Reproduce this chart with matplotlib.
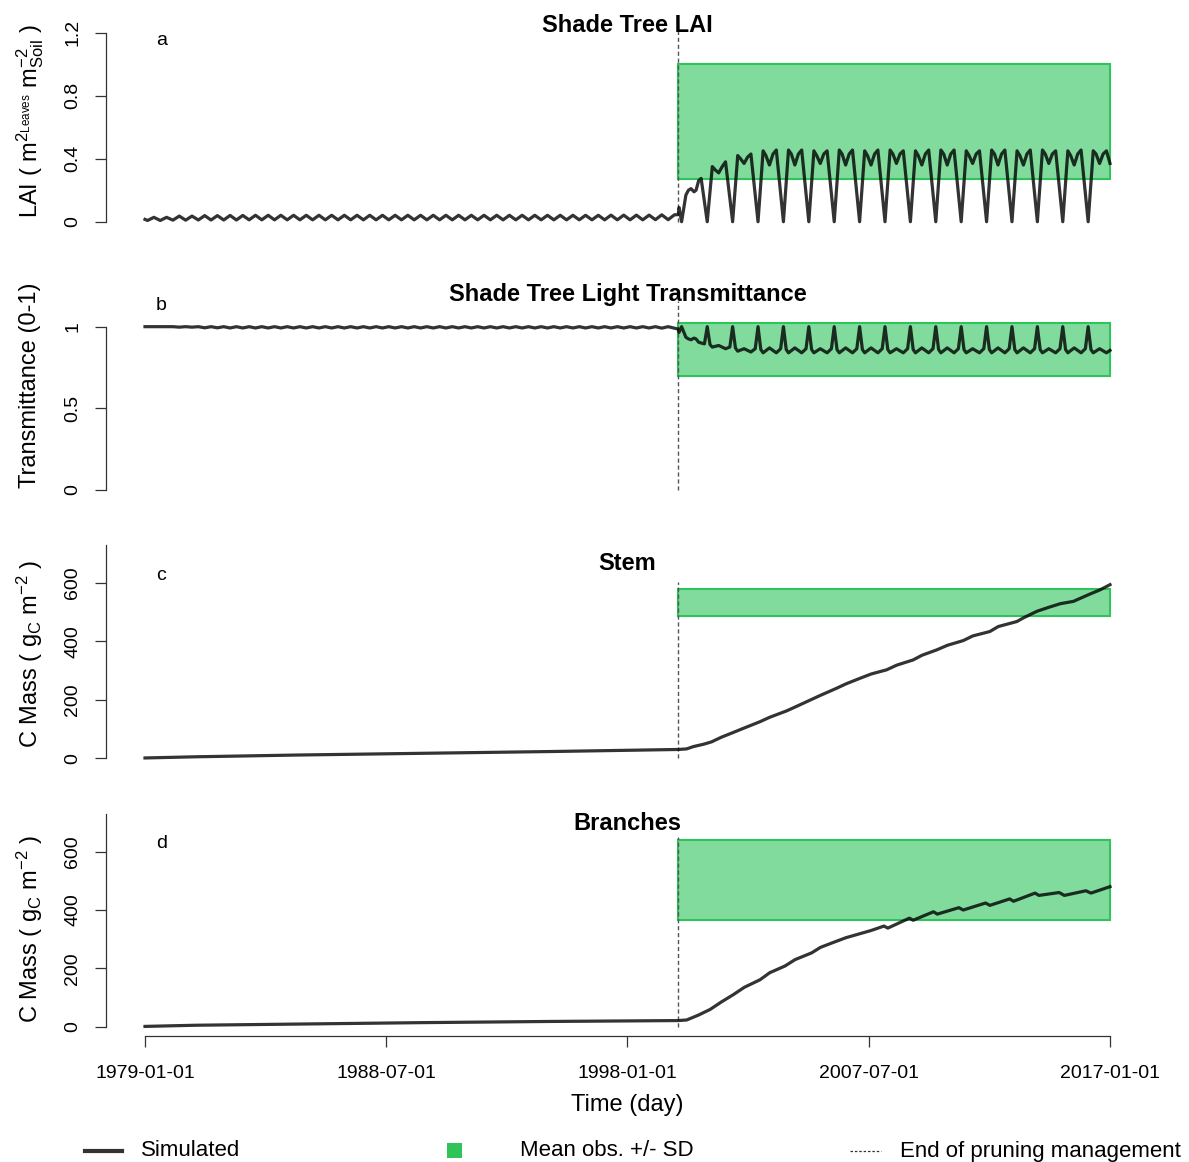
import matplotlib.pyplot as plt
from matplotlib.patches import Rectangle
from matplotlib.lines import Line2D

plt.rcParams['font.family'] = ['Liberation Sans', 'DejaVu Sans']
plt.rcParams['mathtext.fontset'] = 'custom'
plt.rcParams['mathtext.rm'] = 'Liberation Sans'
plt.rcParams['mathtext.it'] = 'Liberation Sans'
plt.rcParams['mathtext.default'] = 'regular'

# ---- data (decimal years) ----
pre_years = list(range(1979, 2000))
lai_pre_low = [0.008, 0.010, 0.011, 0.011, 0.012, 0.012, 0.012, 0.012, 0.012, 0.012, 0.012,
               0.012, 0.012, 0.012, 0.012, 0.012, 0.012, 0.012, 0.012, 0.012, 0.013]
lai_pre_high = [0.028, 0.036, 0.039, 0.040, 0.041, 0.041, 0.041, 0.041, 0.041, 0.041, 0.041,
                0.041, 0.041, 0.041, 0.041, 0.041, 0.041, 0.041, 0.042, 0.042, 0.044]
tr_pre_high = [1.0] * 21
tr_pre_low = [1.0, 0.997, 0.993, 0.992, 0.992, 0.992, 0.992, 0.992, 0.992, 0.992, 0.992,
              0.992, 0.992, 0.992, 0.992, 0.992, 0.992, 0.992, 0.992, 0.992, 0.991]

t_2000 = [2000.0, 2000.03, 2000.13, 2000.3, 2000.4, 2000.5, 2000.62, 2000.7, 2000.8, 2000.9]
lai_2000 = [0.045, 0.09, 0.0, 0.17, 0.20, 0.21, 0.19, 0.20, 0.26, 0.275]
tr_2000 = [0.985, 0.965, 1.0, 0.935, 0.925, 0.92, 0.93, 0.925, 0.905, 0.90]

post_years = list(range(2001, 2017))
lai_trough = [0.0, 0.0, 0.0, 0.0, 0.0, 0.0, 0.0, 0.0, 0.0, 0.0, 0.0, 0.0, 0.0, 0.0, 0.0, 0.0]
lai_peak1 = [0.35, 0.42, 0.45, 0.455, 0.45, 0.455, 0.45, 0.455, 0.45, 0.455, 0.45, 0.455,
             0.45, 0.455, 0.45, 0.45]
lai_sh1 = [0.33, 0.40, 0.42, 0.43, 0.42, 0.43, 0.42, 0.43, 0.42, 0.43, 0.42, 0.43,
           0.42, 0.43, 0.42, 0.43]
lai_dip = [0.31, 0.37, 0.36, 0.36, 0.37, 0.36, 0.36, 0.37, 0.36, 0.36, 0.37, 0.36,
           0.36, 0.37, 0.36, 0.37]
lai_sh2 = [0.35, 0.41, 0.43, 0.43, 0.43, 0.43, 0.43, 0.43, 0.43, 0.43, 0.43, 0.43,
           0.43, 0.43, 0.43, 0.43]
lai_peak2 = [0.38, 0.43, 0.455, 0.455, 0.45, 0.455, 0.455, 0.45, 0.455, 0.455, 0.45, 0.455,
             0.455, 0.45, 0.455, 0.45]
lai_last = 0.37

tr_shoulder_a = [0.895, 0.875, 0.865, 0.865, 0.865, 0.865, 0.865, 0.865, 0.865, 0.865,
                 0.865, 0.865, 0.865, 0.865, 0.865, 0.865]
tr_spike = [1.0, 1.0, 1.0, 1.0, 1.0, 1.0, 1.0, 1.0, 1.0, 1.0, 1.0, 1.0, 1.0, 1.0, 1.0, 1.0]
tr_shoulder_b = [0.89, 0.87, 0.86, 0.86, 0.86, 0.86, 0.86, 0.86, 0.86, 0.86,
                 0.86, 0.86, 0.86, 0.86, 0.86, 0.86]
tr_low1 = [0.875, 0.85, 0.84, 0.84, 0.84, 0.84, 0.84, 0.84, 0.84, 0.84,
           0.84, 0.84, 0.84, 0.84, 0.84, 0.84]
tr_mid = [0.885, 0.865, 0.87, 0.87, 0.865, 0.87, 0.87, 0.865, 0.87, 0.87,
          0.865, 0.87, 0.87, 0.865, 0.87, 0.865]
tr_low2 = [0.865, 0.845, 0.84, 0.84, 0.84, 0.84, 0.84, 0.84, 0.84, 0.84,
           0.84, 0.84, 0.84, 0.84, 0.84, 0.84]
tr_last = 0.855

stem_t = [1979.0, 1981.0, 1985.0, 1990.0, 1995.0, 2000.0, 2000.33, 2000.6, 2001.0, 2001.31,
          2001.7, 2002.16, 2002.5, 2003.22, 2003.6, 2004.27, 2004.6, 2005.25, 2005.6, 2006.23,
          2006.6, 2007.15, 2007.6, 2008.2, 2008.6, 2009.25, 2009.6, 2010.17, 2010.6, 2011.22,
          2011.6, 2012.27, 2012.6, 2013.33, 2013.6, 2014.12, 2014.6, 2015.04, 2015.56, 2016.21,
          2016.6, 2017.0]
stem_v = [1, 5, 11, 17, 23, 30, 32, 40, 48, 56,
          72, 88, 100, 125, 140, 162, 175, 201, 215, 239,
          254, 273, 288, 302, 318, 336, 352, 370, 386, 402,
          418, 433, 450, 467, 480, 502, 516, 528, 536, 561,
          575, 593]

branch_t = [1979.0, 1981.0, 1985.0, 1990.0, 1995.0, 2000.0, 2000.33, 2000.8, 2001.25, 2001.7,
            2002.17, 2002.6, 2003.22, 2003.6, 2004.2, 2004.6, 2005.25, 2005.6, 2006.17, 2006.6,
            2007.28, 2007.6, 2008.1, 2008.25, 2009.1, 2009.25, 2010.05, 2010.2, 2011.05, 2011.22,
            2012.1, 2012.27, 2013.05, 2013.2, 2014.05, 2014.2, 2015.0, 2015.2, 2016.05, 2016.25,
            2017.0]
branch_v = [1, 5, 9, 14, 18, 21, 23, 40, 59, 85,
            110, 135, 161, 185, 208, 230, 253, 272, 291, 305,
            322, 330, 345, 338, 372, 365, 394, 386, 408, 400,
            424, 416, 438, 430, 458, 450, 460, 450, 466, 458,
            480]

prune_end = 2000.0
obs_start = 2000.0
obs_end = 2017.0
obs_lo = [0.27, 0.70, 486, 366]
obs_hi = [1.0, 1.025, 579, 641]

# ---- build series from the tables ----
pre_off = [0.1, 0.35, 0.6, 0.85]
lai_t, lai_v, tr_v = [], [], []
lai_t.append(1979.0)
lai_v.append(0.015)
tr_v.append(1.0)
for i, y in enumerate(pre_years):
    for off, lv, tv in zip(pre_off,
                           [lai_pre_low[i], lai_pre_high[i], lai_pre_low[i], lai_pre_high[i]],
                           [tr_pre_high[i], tr_pre_low[i], tr_pre_high[i], tr_pre_low[i]]):
        lai_t.append(y + off)
        lai_v.append(lv)
        tr_v.append(tv)
lai_t += t_2000
lai_v += lai_2000
tr_v += tr_2000
tr_t = list(lai_t)
for i, y in enumerate(post_years):
    for off, lv in zip([0.14, 0.34, 0.45, 0.59, 0.73, 0.86],
                       [lai_trough[i], lai_peak1[i], lai_sh1[i], lai_dip[i],
                        lai_sh2[i], lai_peak2[i]]):
        lai_t.append(y + off)
        lai_v.append(lv)
    for off, tv in zip([0.03, 0.14, 0.25, 0.34, 0.59, 0.86],
                       [tr_shoulder_a[i], tr_spike[i], tr_shoulder_b[i],
                        tr_low1[i], tr_mid[i], tr_low2[i]]):
        tr_t.append(y + off)
        tr_v.append(tv)
lai_t.append(2017.0)
lai_v.append(lai_last)
tr_t.append(2017.0)
tr_v.append(tr_last)

# ---- figure ----
W, H = 1189, 1162
fig = plt.figure(figsize=(W / 100, H / 100), dpi=100)


def fx(p):
    return p / W


def fy(p):
    return 1 - p / H


green = (46 / 255, 196 / 255, 90 / 255)
L, R = 106.4, 1148.6
panels = [
    dict(top=25.1, bot=229.3, ylim=(-0.048, 1.248), ticks=[0, 0.4, 0.8, 1.2],
         tl=['0', '0.4', '0.8', '1.2'], spine=(0, 1.2), vtop=1.25,
         t=lai_t, v=lai_v, title='Shade Tree LAI', ty=25, letter='a', ly=45,
         ylab=r'LAI ( m$^{2_{Leaves}}$ m$^{-2}_{Soil}$ )', yly=121),
    dict(top=294.0, bot=498.2, ylim=(-0.05, 1.2), ticks=[0, 0.5, 1],
         tl=['0', '0.5', '1'], spine=(0, 1), vtop=1.16,
         t=tr_t, v=tr_v, title='Shade Tree Light Transmittance', ty=293, letter='b', ly=310,
         ylab='Transmittance (0-1)', yly=385),
    dict(top=535.8, bot=766.8, ylim=(-29.2, 760), ticks=[0, 200, 400, 600],
         tl=['0', '200', '400', '600'], spine=(0, 728), vtop=602,
         t=stem_t, v=stem_v, title='Stem', ty=562, letter='c', ly=580,
         ylab=r'C Mass ( g$_C$ m$^{-2}$ )', yly=654),
    dict(top=805.0, bot=1036.0, ylim=(-31.9, 760), ticks=[0, 200, 400, 600],
         tl=['0', '200', '400', '600'], spine=(0, 728), vtop=650,
         t=branch_t, v=branch_v, title='Branches', ty=823, letter='d', ly=848,
         ylab=r'C Mass ( g$_C$ m$^{-2}$ )', yly=929),
]

for k, p in enumerate(panels):
    ax = fig.add_axes([fx(L), fy(p['bot']), (R - L) / W, (p['bot'] - p['top']) / H])
    ax.set_xlim(1977.48, 2018.52)
    ax.set_ylim(*p['ylim'])
    ax.patch.set_alpha(0)
    for s in ['top', 'right']:
        ax.spines[s].set_visible(False)
    ax.spines['left'].set_bounds(*p['spine'])
    ax.spines['left'].set_color('#333333')
    ax.spines['left'].set_linewidth(0.9)
    ax.set_yticks(p['ticks'])
    ax.set_yticklabels(p['tl'])
    ax.tick_params(axis='y', direction='out', length=8, width=0.9, color='#333333',
                   labelsize=14, pad=10, labelrotation=90)
    for lab in ax.get_yticklabels():
        lab.set_va('center')
    if k == 3:
        ax.spines['bottom'].set_bounds(1979.0, 2017.0)
        ax.spines['bottom'].set_color('#333333')
        ax.spines['bottom'].set_linewidth(0.9)
        ax.set_xticks([1979.0, 1988.5, 1998.0, 2007.5, 2017.0])
        ax.set_xticklabels(['1979-01-01', '1988-07-01', '1998-01-01', '2007-07-01', '2017-01-01'])
        ax.tick_params(axis='x', direction='out', length=8, width=0.9, color='#333333',
                       labelsize=14, pad=13)
    else:
        ax.spines['bottom'].set_visible(False)
        ax.set_xticks([])

    ax.add_patch(Rectangle((obs_start, obs_lo[k]), obs_end - obs_start, obs_hi[k] - obs_lo[k],
                           facecolor=green + (0.6,), edgecolor=green, linewidth=1.5, zorder=2))
    ax.vlines(prune_end, 0, p['vtop'], colors='#555555', linewidth=1.0,
              linestyles=(0, (3, 2)), zorder=2.5)
    ax.plot(p['t'], p['v'], color='black', alpha=0.8, linewidth=2.3, zorder=3,
            solid_joinstyle='round')

    fig.text(fx(627.5), fy(p['ty'] + 1), p['title'], ha='center', va='center',
             fontsize=17, fontweight='bold')
    fig.text(fx(156), fy(p['ly']), p['letter'], ha='left', va='baseline', fontsize=14)
    fig.text(fx(30), fy(p['yly']), p['ylab'], rotation=90, ha='center', va='center',
             fontsize=17)

fig.text(fx(627.5), fy(1105), 'Time (day)', ha='center', va='center', fontsize=17)

# legend
fig.add_artist(Line2D([fx(85), fx(122)], [fy(1151), fy(1151)], color='#333333', linewidth=3))
fig.text(fx(141), fy(1151), 'Simulated', ha='left', va='center', fontsize=16)
fig.add_artist(Rectangle((fx(447), fy(1158)), 15 / W, 15 / H, facecolor=green,
                         edgecolor='none', transform=fig.transFigure))
fig.text(fx(520), fy(1151), 'Mean obs. +/- SD', ha='left', va='center', fontsize=16)
fig.add_artist(Line2D([fx(850), fx(881)], [fy(1151), fy(1151)], color='#333333',
                      linewidth=0.9, linestyle=(0, (2, 1.5))))
fig.text(fx(900), fy(1151), 'End of pruning management', ha='left', va='center', fontsize=16)

fig.savefig('out.png', dpi=100)
